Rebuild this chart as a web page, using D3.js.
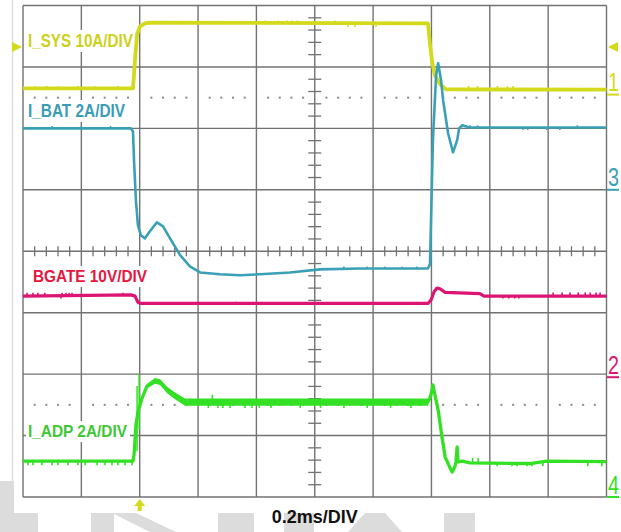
<!DOCTYPE html>
<html><head><meta charset="utf-8">
<script src="https://cdn.jsdelivr.net/npm/d3@7"></script>
<style>html,body{margin:0;padding:0;background:#fff;} svg{display:block;}</style>
</head><body>
<svg id="chart" width="621" height="532"></svg>
<script>
// ---------------- data (time in ms, values in physical units) ----------------
const timeDomain = [-0.4, 1.6];          // 0.2 ms/div, trigger at 0
const divRange = [-4, 4];                 // 8 vertical divisions
const timeLabel = "0.2ms/DIV";

const channelNames  = ["I_SYS 10A/DIV", "I_BAT 2A/DIV", "BGATE 10V/DIV", "I_ADP 2A/DIV"];
const channelNums   = ["1", "3", "2", "4"];
const channelScales = [10, 2, 10, 2];          // units per division
const channelGround = [2.55, 1.0, -2.05, -4.0]; // ground marker, divisions

// I_SYS (A)
const sysTime  = [-0.4, -0.023, -0.016, -0.009, 0.001, 0.018, 0.035, 0.988, 0.995, 1.002, 1.012, 1.029, 1.050, 1.6];
const sysValue = [1.0, 1.0, 5.7, 9.8, 11.1, 11.6, 11.7, 11.6, 8.2, 5.4, 3.1, 1.7, 0.85, 0.8];
const sysGlitch = [[-0.359,1.35],[-0.318,1.4],[-0.28,1.35],[-0.211,1.4],[-0.153,1.35],[-0.074,1.4],
  [0.43,12.05],[0.475,12.05],[0.505,12.05],[0.523,12.05],[0.54,12.05],[0.669,12.05],[0.714,11.0],[0.738,11.0],[0.81,11.0],
  [1.127,1.4],[1.158,1.4],[1.226,1.4],[1.26,1.35],[1.28,1.4]];

// I_BAT (A)
const batTime  = [-0.4, -0.030, -0.023, -0.0195, -0.013, -0.006, 0.004, 0.018, 0.035, 0.059, 0.080, 0.104, 0.138, 0.172, 0.207, 0.275, 0.344, 0.412, 0.515, 0.618, 0.755, 0.988, 0.995, 1.005, 1.016, 1.023, 1.033, 1.040, 1.057, 1.074, 1.088, 1.095, 1.105, 1.132, 1.6];
const batValue = [2.0, 2.0, 1.90, 0.96, -0.34, -1.16, -1.48, -1.58, -1.35, -1.06, -1.19, -1.58, -2.12, -2.49, -2.69, -2.75, -2.78, -2.75, -2.69, -2.59, -2.56, -2.56, -2.42, 1.61, 3.73, 4.12, 3.56, 2.91, 1.84, 1.22, 1.61, 2.0, 2.10, 2.03, 2.03];
const batGlitch = [[-0.30,2.08],[-0.2,2.08],[-0.1,2.08],[0.70,-2.5],[0.78,-2.5],[0.84,-2.5],[0.9,-2.5],[0.95,-2.5],
  [1.132,2.1],[1.158,2.1],[1.314,1.95],[1.33,1.95],[1.395,1.95],[1.44,1.95],[1.5,2.1]];

// BGATE (V)
const bgTime  = [-0.4, -0.030, -0.016, -0.006, 0.004, 0.988, 0.999, 1.009, 1.019, 1.029, 1.047, 1.166, 1.180, 1.6];
const bgValue = [13.2, 13.4, 13.2, 12.2, 12.0, 12.0, 12.6, 13.9, 14.5, 14.4, 13.8, 13.6, 13.2, 13.2];
const bgGlitch = [[-0.386,13.75],[-0.366,13.75],[-0.349,13.75],[-0.325,13.75],[-0.27,12.8],[-0.266,13.75],[-0.253,13.75],[-0.242,13.75],[-0.232,13.75],[-0.057,13.75],
  [0.2,12.3],[0.28,11.8],[0.32,11.8],[0.33,12.3],
  [1.245,12.8],[1.265,12.8],[1.285,12.8],[1.30,12.8],
  [1.417,13.8],[1.448,13.8],[1.475,13.8],[1.503,13.8],[1.527,13.8],[1.544,13.8],[1.564,13.8],[1.578,13.8]];

// I_ADP (A) with peak-to-peak noise band
const adpTime  = [-0.4, -0.023, -0.0195, -0.016, -0.013, -0.006, 0.001, 0.008, 0.025, 0.052, 0.070, 0.094, 0.121, 0.138, 0.155, 0.988, 0.995, 1.002, 1.005, 1.012, 1.023, 1.036, 1.047, 1.064, 1.071, 1.081, 1.084, 1.088, 1.091, 1.105, 1.132, 1.337, 1.396, 1.6];
const adpValue = [1.17, 1.17, 1.37, 1.86, 2.34, 2.77, 2.99, 3.22, 3.61, 3.78, 3.74, 3.48, 3.29, 3.19, 3.09, 3.09, 3.22, 3.48, 3.65, 3.32, 2.83, 1.95, 1.30, 0.94, 0.81, 1.01, 1.14, 1.63, 1.14, 1.17, 1.11, 1.09, 1.17, 1.15];
const adpNoise = [0, 0, 0, 0, 0, 0, 0.04, 0.08, 0.14, 0.18, 0.19, 0.21, 0.22, 0.23, 0.24, 0.24, 0.06, 0, 0, 0, 0, 0, 0, 0, 0, 0, 0, 0, 0, 0, 0, 0, 0, 0];
const adpSpikes = [[-0.009, 1.5, 3.61], [-0.002, 2.2, 4.0]];
const adpGlitch = [[-0.383,1.03],[-0.366,1.03],[-0.335,1.03],[-0.30,1.03],[-0.28,1.03],[-0.246,1.03],[-0.212,1.03],[-0.187,1.03],[-0.146,1.03],[-0.119,1.03],[-0.095,1.03],[-0.075,1.03],[-0.050,1.03],[-0.026,1.03],
  [0.235,2.9],[0.249,3.33],[0.268,2.9],[0.285,2.9],[0.31,2.9],[0.361,2.9],[0.385,2.9],[0.41,2.9],[0.45,2.9],[0.55,2.9],[0.62,2.9],[0.70,2.9],[0.78,2.9],[0.86,2.9],[0.93,2.9],
  [1.141,1.27],[1.16,1.27],[1.225,1.0],[1.276,1.0],[1.293,1.0],[1.327,1.0],[1.344,1.0],[1.382,1.0],[1.536,1.0],[1.584,1.0]];

// ---------------- drawing ----------------
const svg = d3.select("#chart");
const FONT = "'Liberation Sans', Arial, sans-serif";
const x = d3.scaleLinear().domain(timeDomain).range([23, 606.5]);
const y = d3.scaleLinear().domain(divRange).range([497, 5.5]);
const toY = (ch, v) => y(v / channelScales[ch] + channelGround[ch]);

const colors = { sys: "#d3da1c", bat: "#3aa0b6", bg: "#dc1473", adp: "#33e024" };
const labelColors = ["#cdd11b", "#3b9db4", "#e5173f", "#3ec735"];
const numColors = ["#d3da1c", "#3aa0b6", "#d81b72", "#33e024"];
const gridColor = "#727272";

// watermark shapes (background)
const wm = svg.append("g").attr("fill", "#dcdcdc");
wm.append("line").attr("x1", 12.5).attr("x2", 12.5).attr("y1", 0).attr("y2", 482).attr("stroke", "#dedede").attr("stroke-width", 1.5);
wm.append("rect").attr("x", 0).attr("y", 481).attr("width", 14).attr("height", 51);
wm.append("rect").attr("x", 0).attr("y", 513).attr("width", 38).attr("height", 19);
wm.append("rect").attr("x", 91).attr("y", 513).attr("width", 23).attr("height", 19);
wm.append("polygon").attr("points", "112,513 136,513 176,532 150,532");
wm.append("rect").attr("x", 218).attr("y", 513).attr("width", 36).attr("height", 19);
wm.append("rect").attr("x", 284).attr("y", 513).attr("width", 30).attr("height", 19);
wm.append("polygon").attr("points", "365,513 385,513 402,532 348,532");
wm.append("rect").attr("x", 444).attr("y", 513).attr("width", 31).attr("height", 19);

// grid
const grid = svg.append("g").attr("stroke", gridColor).attr("stroke-width", 1.4).attr("fill", "none");
const vTicks = d3.range(0, 11).map(i => timeDomain[0] + 0.2 * i);
const hTicks = d3.range(divRange[0], divRange[1] + 1);
grid.selectAll("line.v").data(vTicks).join("line").attr("class", "v")
  .attr("x1", d => x(d)).attr("x2", d => x(d)).attr("y1", y(4)).attr("y2", y(-4));
grid.selectAll("line.h").data(hTicks).join("line").attr("class", "h")
  .attr("x1", x(timeDomain[0])).attr("x2", x(timeDomain[1])).attr("y1", d => y(d)).attr("y2", d => y(d));

// minor ticks on centre lines
const minorT = d3.range(0, 50).map(i => timeDomain[0] + 0.04 * i).filter((d, i) => i % 5 !== 0);
const minorD = d3.range(0, 40).map(i => divRange[0] + 0.2 * i).filter((d, i) => i % 5 !== 0);
const tg = svg.append("g").attr("stroke", gridColor).attr("stroke-width", 1.3);
tg.selectAll("line.mt").data(minorT).join("line")
  .attr("x1", d => x(d)).attr("x2", d => x(d)).attr("y1", y(0) - 5).attr("y2", y(0) + 5);
tg.selectAll("line.md").data(minorD).join("line")
  .attr("x1", x(0.6) - 6.5).attr("x2", x(0.6) + 6.5).attr("y1", d => y(d)).attr("y2", d => y(d));

// dotted rows
const dotRows = [2.5, -2.5];
const dg = svg.append("g").attr("fill", "#8a8a8a");
dotRows.forEach(r => {
  dg.selectAll(null).data(minorT).join("rect")
    .attr("x", d => x(d) - 1).attr("y", y(r) - 1).attr("width", 2).attr("height", 2);
});

// labels with white backgrounds
const labelPos = [[28, 47, 105, 18], [28, 117, 97, 18], [33, 282, 114, 17], [28, 437, 99, 17]];
const lg = svg.append("g");
channelNames.forEach((name, i) => {
  const [lx, ly, lw, fs] = labelPos[i];
  lg.append("rect").attr("x", lx - 2).attr("y", ly - fs + 1).attr("width", lw + 5).attr("height", fs + 4).attr("fill", "#fff");
  lg.append("text").attr("x", lx).attr("y", ly).text(name)
    .attr("font-family", FONT).attr("font-size", fs).attr("font-weight", "bold")
    .attr("fill", labelColors[i]).attr("textLength", lw).attr("lengthAdjust", "spacingAndGlyphs");
});

// traces
function drawTrace(ch, times, values, color, width, glitches) {
  const pts = times.map((t, i) => [t, values[i]]);
  const interp = d3.scaleLinear().domain(times).range(values);
  const g = svg.append("g");
  if (glitches) {
    g.selectAll("line").data(glitches).join("line")
      .attr("x1", d => x(d[0])).attr("x2", d => x(d[0]))
      .attr("y1", d => toY(ch, interp(d[0]))).attr("y2", d => toY(ch, d[1]))
      .attr("stroke", color).attr("stroke-width", 1.6);
  }
  g.append("path").datum(pts)
    .attr("d", d3.line().x(d => x(d[0])).y(d => toY(ch, d[1])))
    .attr("fill", "none").attr("stroke", color).attr("stroke-width", width)
    .attr("stroke-linejoin", "round").attr("stroke-linecap", "butt");
  return g;
}

drawTrace(0, sysTime, sysValue, colors.sys, 3.8, sysGlitch);
drawTrace(1, batTime, batValue, colors.bat, 2.6, batGlitch);
drawTrace(2, bgTime, bgValue, colors.bg, 3.2, bgGlitch);

// I_ADP band + line
const adpPts = adpTime.map((t, i) => ({ t, v: adpValue[i], n: adpNoise[i] }));
svg.append("path").datum(adpPts)
  .attr("d", d3.area().x(d => x(d.t)).y0(d => toY(3, d.v - d.n / 2)).y1(d => toY(3, d.v + d.n / 2)))
  .attr("fill", colors.adp);
svg.append("g").selectAll("line").data(adpSpikes).join("line")
  .attr("x1", d => x(d[0])).attr("x2", d => x(d[0]))
  .attr("y1", d => toY(3, d[1])).attr("y2", d => toY(3, d[2]))
  .attr("stroke", colors.adp).attr("stroke-width", 1.5);
drawTrace(3, adpTime, adpValue, colors.adp, 3.3, adpGlitch);

// channel ground markers on the right
const mg = svg.append("g");
channelNums.forEach((n, i) => {
  const gy = y(channelGround[i]);
  mg.append("text").attr("x", 608).attr("y", gy - 3.5).text(n)
    .attr("font-family", FONT).attr("font-size", 26).attr("fill", numColors[i])
    .attr("textLength", 11).attr("lengthAdjust", "spacingAndGlyphs");
  mg.append("line").attr("x1", 607).attr("x2", 619).attr("y1", gy).attr("y2", gy)
    .attr("stroke", numColors[i]).attr("stroke-width", 2);
});

// trigger level markers and trigger position arrow
const trigY = 47;
svg.append("polygon").attr("points", `12,${trigY - 5} 12,${trigY + 5} 22,${trigY}`).attr("fill", colors.sys);
svg.append("polygon").attr("points", `618,${trigY - 5} 618,${trigY + 5} 608,${trigY}`).attr("fill", colors.sys);
const tx = x(0);
svg.append("polygon").attr("points", `${tx - 5.5},506 ${tx},499 ${tx + 5.5},506`).attr("fill", colors.sys);
svg.append("rect").attr("x", tx - 2).attr("y", 505).attr("width", 4).attr("height", 6).attr("fill", colors.sys);

// time base label
svg.append("text").attr("x", x(0.6)).attr("y", 523).attr("text-anchor", "middle").text(timeLabel)
  .attr("font-family", FONT).attr("font-size", 18).attr("font-weight", "bold").attr("fill", "#111");
</script>
</body></html>
